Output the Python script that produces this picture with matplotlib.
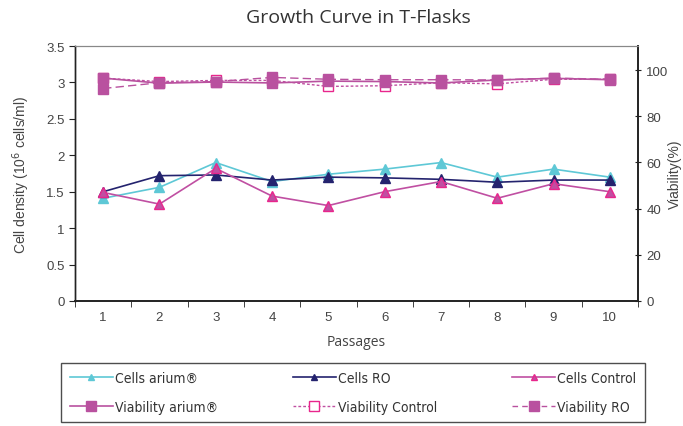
import matplotlib
matplotlib.use("Agg")
import matplotlib.pyplot as plt
from matplotlib.lines import Line2D
from matplotlib.font_manager import FontProperties

passages = [1, 2, 3, 4, 5, 6, 7, 8, 9, 10]
cells_arium = [1.41, 1.56, 1.90, 1.64, 1.74, 1.81, 1.90, 1.70, 1.81, 1.70]
cells_ro = [1.50, 1.72, 1.73, 1.66, 1.70, 1.69, 1.67, 1.63, 1.66, 1.66]
cells_control = [1.49, 1.33, 1.82, 1.44, 1.31, 1.50, 1.64, 1.41, 1.61, 1.50]
via_arium = [96.5, 94.3, 94.8, 94.4, 95.2, 95.0, 94.4, 95.7, 96.4, 95.8]
via_control = [96.5, 95.0, 95.5, 95.5, 92.9, 93.2, 94.5, 94.0, 96.0, 96.0]
via_ro = [92.0, 94.5, 95.0, 96.8, 96.0, 95.8, 95.8, 95.7, 96.5, 96.0]

title = "Growth Curve in T-Flasks"
xlabel = "Passages"
ylabel_left = "Cell density (10$^6$ cells/ml)"
ylabel_right = "Viability(%)"

CYAN = "#5ec8d6"
NAVY = "#24236e"
MAG = "#c04fa2"
PINK = "#e8268c"
VIA = "#b9519f"
GREY = "#444444"

plt.rcParams['font.family'] = ['Liberation Sans', 'DejaVu Sans']

fig = plt.figure(figsize=(6.83, 4.27), dpi=100)
ax = fig.add_axes([75/683, 1-302/427, (638-75)/683, (302-47)/427])
ax2 = ax.twinx()

# cells on left axis
ax.plot(passages, cells_arium, color=CYAN, lw=1.2, marker='^', ms=6.5,
        mfc=CYAN, mec=CYAN, zorder=3)
ax.plot(passages, cells_ro, color=NAVY, lw=1.2, marker='^', ms=6.5,
        mfc=NAVY, mec=NAVY, zorder=3)
ax.plot(passages, cells_control, color=MAG, lw=1.2, marker='^', ms=6.5,
        mfc=MAG, mec=PINK, zorder=3)

# viability on right axis
ax2.plot(passages, via_control, color=MAG, lw=1.0, ls=(0, (2, 1.5)), marker='s',
         ms=7, mfc='white', mec=PINK, zorder=3)
ax2.plot(passages, via_ro, color=VIA, lw=1.0, ls=(0, (6, 3)), marker='s',
         ms=7.5, mfc=VIA, mec=VIA, zorder=3)
ax2.plot(passages, via_arium, color=VIA, lw=1.2, marker='s', ms=7.5,
         mfc=VIA, mec=VIA, zorder=4)

ax.set_xlim(0.5, 10.5)
ax.set_ylim(0, 3.5)
ax2.set_ylim(0, 110.4)
ax.set_yticks([0, 0.5, 1, 1.5, 2, 2.5, 3, 3.5])
ax.set_yticklabels(["0", "0.5", "1", "1.5", "2", "2.5", "3", "3.5"])
ax2.set_yticks([0, 20, 40, 60, 80, 100])
ax.set_xticks(passages)
ax.set_xticks([i + 0.5 for i in range(0, 11)], minor=True)
ax.tick_params(axis='x', which='major', length=0, pad=7, labelsize=9.5)
ax.tick_params(axis='x', which='minor', length=4, direction='out', color='#222222')
ax.tick_params(axis='y', length=4, direction='out', labelsize=9.5, color='#222222')
ax2.tick_params(axis='y', length=5, direction='inout', labelsize=9.5, color='#222222')
for t in ax.get_yticklabels() + ax.get_xticklabels() + ax2.get_yticklabels():
    t.set_color(GREY)

for a in (ax, ax2):
    a.spines['top'].set_color('#888888')
    a.spines['top'].set_linewidth(0.8)
    a.spines['left'].set_color('#222222')
    a.spines['right'].set_color('#222222')
    a.spines['bottom'].set_color('#222222')
    a.spines['left'].set_linewidth(1.0)
    a.spines['right'].set_linewidth(1.2)
    a.spines['bottom'].set_linewidth(1.2)

ax.set_ylabel(ylabel_left, fontsize=10, color=GREY, va='center', ha='center')
ax.yaxis.set_label_coords((21-75)/563, 0.5)
ax2.set_ylabel(ylabel_right, fontsize=10, color=GREY, va='center', ha='center')
ax2.yaxis.set_label_coords((675-75)/563, 0.5)
ax.set_xlabel(xlabel, fontsize=10, color=GREY, va='center',
              family=['Open Sans', 'DejaVu Sans'])
ax.xaxis.set_label_coords(0.5, -(343-302)/255)
fig.text(358/683, 1-18/427, title, ha='center', va='center', fontsize=14,
         color='#333333', family=['Open Sans', 'DejaVu Sans'])

handles = [
    Line2D([], [], color=CYAN, lw=1.2, marker='^', ms=5, mfc=CYAN, mec=CYAN),
    Line2D([], [], color=VIA, lw=1.2, marker='s', ms=7, mfc=VIA, mec=VIA),
    Line2D([], [], color=NAVY, lw=1.2, marker='^', ms=5, mfc=NAVY, mec=NAVY),
    Line2D([], [], color=MAG, lw=1.0, ls=(0, (2, 1.5)), marker='s', ms=7, mfc='white', mec=PINK),
    Line2D([], [], color=MAG, lw=1.2, marker='^', ms=5, mfc=MAG, mec=PINK),
    Line2D([], [], color=VIA, lw=1.0, ls=(0, (4, 3)), marker='s', ms=7, mfc=VIA, mec=VIA),
]
labels = ["Cells arium®", "Viability arium®", "Cells RO", "Viability Control",
          "Cells Control", "Viability RO"]
fp = FontProperties(family=['DejaVu Sans'], stretch='condensed', size=10)
leg = fig.legend(handles, labels, ncol=3, loc='center',
                 bbox_to_anchor=(353/683, 1-393.5/427),
                 frameon=True, fancybox=False, edgecolor='#222222',
                 handlelength=3.1, handletextpad=0.15,
                 columnspacing=5.4, labelspacing=1.1, borderpad=0.6,
                 prop=fp)
leg.get_frame().set_linewidth(1.0)
for t in leg.get_texts():
    t.set_color('#333333')

fig.savefig("out.png", dpi=100)
